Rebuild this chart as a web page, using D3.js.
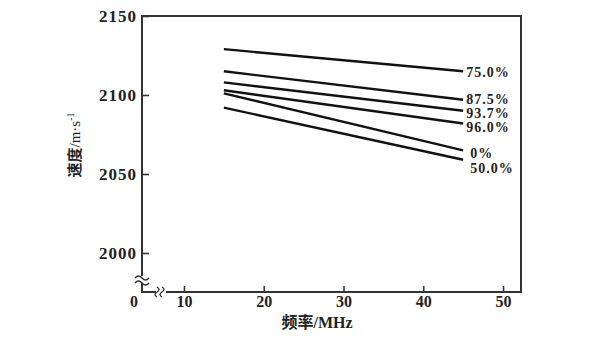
<!DOCTYPE html>
<html>
<head>
<meta charset="utf-8">
<script src="https://cdn.jsdelivr.net/npm/d3@7"></script>
<style>
  body { margin: 0; background: #fff; }
  svg { display: block; }
  text { font-family: "Liberation Serif", "DejaVu Serif", serif; fill: #222; }
  .tick line { stroke: #333; stroke-width: 1.6; }
</style>
</head>
<body>
<svg width="600" height="338"></svg>
<script>
// water content series, each read at 15 MHz and 45 MHz
var labels = ["75.0%", "87.5%", "93.7%", "96.0%", "0%", "50.0%"];
var freqs = [15, 45];
var v75 = [2129, 2115];
var v875 = [2115, 2097];
var v937 = [2108, 2090];
var v960 = [2103, 2082];
var v0 = [2101, 2065];
var v50 = [2092, 2059];
var series = [v75, v875, v937, v960, v0, v50];

var xTicks = [10, 20, 30, 40, 50];
var yTicks = [2000, 2050, 2100, 2150];

var svg = d3.select("svg");

// frame corners
var fLeft = 142, fRight = 521, fTop = 16, fBottom = 292;

var x = d3.scaleLinear().domain([10, 50]).range([184, 503]);
var y = d3.scaleLinear().domain([2000, 2150]).range([253, 16]);

// frame
svg.append("rect")
  .attr("x", fLeft).attr("y", fTop)
  .attr("width", fRight - fLeft).attr("height", fBottom - fTop)
  .attr("fill", "none").attr("stroke", "#333").attr("stroke-width", 2);

// y axis, ticks pointing inward
var gy = svg.append("g")
  .attr("transform", "translate(" + fLeft + ",0)")
  .call(d3.axisLeft(y).tickValues(yTicks).tickFormat(d3.format("d")).tickSize(-7).tickPadding(5));
gy.select(".domain").remove();
gy.selectAll("text")
  .style("font-size", "17px")
  .style("letter-spacing", "1px")
  .style("font-weight", "bold");

// x axis
var gx = svg.append("g")
  .attr("transform", "translate(0," + fBottom + ")")
  .call(d3.axisBottom(x).tickValues(xTicks).tickFormat(d3.format("d")).tickSize(-6).tickPadding(4));
gx.select(".domain").remove();
gx.selectAll("text")
  .style("font-size", "16px")
  .style("font-weight", "bold");

// origin label
svg.append("text")
  .attr("x", 134).attr("y", 301).attr("dy", "0.35em")
  .attr("text-anchor", "middle")
  .style("font-size", "16px").style("font-weight", "bold")
  .text("0");

// axis breaks
svg.append("rect").attr("x", fLeft - 2).attr("y", 276).attr("width", 4).attr("height", 7).attr("fill", "#fff");
[276.5, 281.5].forEach(function (yy) {
  svg.append("path")
    .attr("d", "M135," + (yy + 1.5) + " q3.5,-4 7,0 t7,0")
    .attr("fill", "none").attr("stroke", "#333").attr("stroke-width", 1.4);
});
svg.append("rect").attr("x", 156).attr("y", fBottom - 2).attr("width", 10).attr("height", 4).attr("fill", "#fff");
[158.5, 163.5].forEach(function (xx) {
  svg.append("path")
    .attr("d", "M" + (xx - 1.5) + ",287 q4,2.5 0,5 t0,5")
    .attr("fill", "none").attr("stroke", "#333").attr("stroke-width", 1.4);
});

// lines
var line = d3.line()
  .x(function (d, i) { return x(freqs[i]); })
  .y(function (d) { return y(d); });

svg.selectAll("path.series")
  .data(series)
  .enter()
  .append("path")
  .attr("class", "series")
  .attr("d", line)
  .attr("fill", "none")
  .attr("stroke", "#111")
  .attr("stroke-width", 2.4);

// line labels at the right end, nudged so they do not overlap
var labelDx = [3, 3, 3, 3, 7, 7];
var labelY = [72, 99.5, 113.5, 127.5, 153, 168];
svg.selectAll("text.lab")
  .data(labels)
  .enter()
  .append("text")
  .attr("class", "lab")
  .attr("x", function (d, i) { return x(freqs[1]) + labelDx[i]; })
  .attr("y", function (d, i) { return labelY[i]; })
  .attr("dy", "0.35em")
  .style("font-size", "14px")
  .style("letter-spacing", "1px")
  .style("font-weight", "bold")
  .text(function (d) { return d; });

// axis titles
svg.append("text")
  .attr("x", 317).attr("y", 322).attr("dy", "0.35em")
  .attr("text-anchor", "middle")
  .style("font-size", "16px").style("font-weight", "bold")
  .html('<tspan style="font-family:\'Noto Sans CJK SC\'">频率</tspan>/MHz');

svg.append("text")
  .attr("transform", "translate(75,145) rotate(-90)")
  .attr("dy", "0.35em")
  .attr("text-anchor", "middle")
  .style("font-size", "15px")
  .html('<tspan style="font-family:\'Noto Sans CJK SC\';font-weight:bold">速度</tspan>/m·s<tspan dy="-6" style="font-size:10px">-1</tspan>');
</script>
</body>
</html>
